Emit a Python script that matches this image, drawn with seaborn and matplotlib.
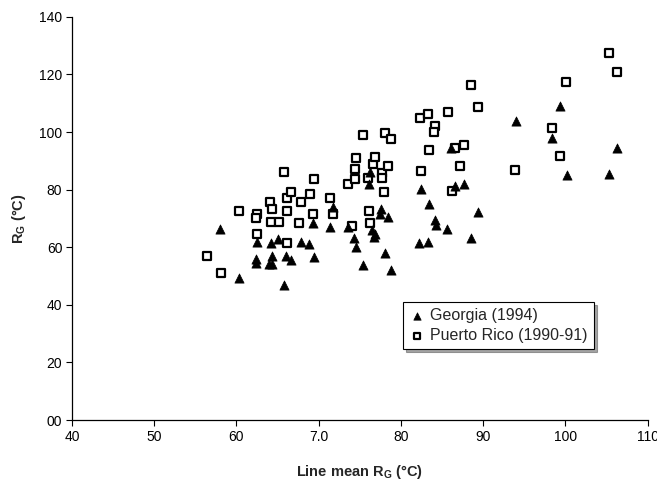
import matplotlib
matplotlib.use("Agg")
import matplotlib.pyplot as plt
import seaborn as sns
import pandas as pd

# Georgia (1994) – triangles
georgia_x = [58.0, 60.3, 62.5, 62.4, 62.4, 64.2, 65.1, 64.3, 63.9, 64.3, 66.0, 66.6, 65.8,
             67.8, 68.8, 69.3, 69.4, 71.8, 71.4, 73.6, 74.3, 74.6, 75.4, 76.2, 76.1, 77.6,
             77.5, 78.4, 76.5, 76.8, 76.7, 78.1, 78.8, 82.4, 83.4, 84.1, 84.3, 82.2, 83.3,
             85.6, 86.1, 86.6, 87.7, 88.5, 89.4, 94.0, 98.4, 99.4, 100.2, 105.3, 106.3]
georgia_y = [66.3, 49.3, 61.9, 55.8, 54.4, 61.6, 62.9, 57.0, 54.3, 54.0, 57.0, 55.6, 46.9,
             61.9, 61.0, 68.5, 56.7, 74.1, 67.1, 66.9, 63.1, 60.2, 53.8, 86.2, 82.0, 73.2,
             71.6, 70.6, 66.0, 64.6, 63.7, 58.1, 52.1, 80.1, 74.9, 69.5, 67.7, 61.4, 61.9,
             66.2, 94.6, 81.1, 81.9, 63.1, 72.1, 103.9, 97.8, 109.2, 84.9, 85.4, 94.4]

# Puerto Rico (1990-91) – squares
pr_x = [56.4, 58.1, 60.3, 62.5, 62.4, 62.5, 64.1, 64.3, 64.2, 65.2, 65.8, 66.1, 66.1, 66.1,
        66.6, 67.8, 67.6, 68.9, 69.3, 69.4, 71.4, 71.8, 73.6, 74.4, 74.4, 74.6, 75.4, 76.0,
        76.6, 76.8, 77.7, 77.7, 77.9, 78.1, 78.8, 78.4, 76.1, 76.3, 74.1, 82.3, 83.3, 84.1,
        84.0, 83.4, 82.4, 85.7, 86.6, 87.7, 87.2, 86.2, 88.5, 89.4, 93.9, 98.4, 99.4, 100.1,
        105.3, 106.3]
pr_y = [57.1, 51.1, 72.6, 71.4, 70.2, 64.7, 75.6, 73.3, 68.7, 68.9, 86.2, 77.0, 72.4, 61.4,
        79.3, 75.6, 68.4, 78.5, 71.7, 83.7, 77.0, 71.4, 82.0, 83.6, 87.1, 90.8, 99.0, 84.2,
        88.8, 91.2, 85.7, 83.9, 79.1, 99.6, 97.6, 88.1, 72.4, 68.3, 67.5, 104.8, 106.3, 102.2,
        100.1, 93.6, 86.5, 107.1, 94.6, 95.5, 88.2, 79.6, 116.4, 108.6, 86.8, 101.3, 91.7, 117.5,
        127.6, 121.0]

series_labels = ["Georgia (1994)", "Puerto Rico (1990-91)"]
x_ticks = [40, 50, 60, 70, 80, 90, 100, 110]
x_tick_labels = ["40", "50", "60", "7.0", "80", "90", "100", "110"]
y_ticks = [0, 20, 40, 60, 80, 100, 120, 140]
y_tick_labels = ["00", "20", "40", "60", "80", "100", "120", "140"]

sns.set_theme(style="white")
plt.rcParams["font.family"] = ["Liberation Sans", "DejaVu Sans"]
plt.rcParams["mathtext.fontset"] = "custom"
plt.rcParams["mathtext.rm"] = "Liberation Sans"
plt.rcParams["mathtext.bf"] = "Liberation Sans:bold"

df_g = pd.DataFrame({"x": georgia_x, "y": georgia_y})
df_p = pd.DataFrame({"x": pr_x, "y": pr_y})

fig = plt.figure(figsize=(6.57, 4.80), dpi=100)
ax = fig.add_axes([0.1096, 0.125, 0.876, 0.840])

sns.scatterplot(data=df_g, x="x", y="y", ax=ax, marker="^", color="black",
                edgecolor="black", s=44, linewidth=0.5, label=series_labels[0], zorder=3)
sns.scatterplot(data=df_p, x="x", y="y", ax=ax, marker="s", facecolor="white",
                edgecolor="black", s=30, linewidth=1.6, label=series_labels[1], zorder=2)

ax.set_xlim(40, 110)
ax.set_ylim(0, 140)
ax.set_xticks(x_ticks)
ax.set_xticklabels(x_tick_labels)
ax.set_yticks(y_ticks)
ax.set_yticklabels(y_tick_labels)
ax.tick_params(axis="both", direction="out", length=4, width=0.8, color="black",
               labelsize=10, labelcolor="black", bottom=True, left=True, pad=3)

for side in ["top", "right"]:
    ax.spines[side].set_visible(False)
for side in ["left", "bottom"]:
    ax.spines[side].set_color("black")
    ax.spines[side].set_linewidth(0.9)

ax.set_xlabel(r"Line mean $\mathbf{R}_\mathbf{G}$ (°C)", fontsize=10.5, fontweight="bold",
              labelpad=14)
ax.set_ylabel(r"$\mathbf{R}_\mathbf{G}$ (°C)", fontsize=10.5, fontweight="bold", labelpad=8)

leg = ax.legend(loc="upper left", bbox_to_anchor=(0.575, 0.293), frameon=True,
                fancybox=False, shadow=True, fontsize=11.5, handletextpad=0.3,
                borderpad=0.4, labelspacing=0.3, handlelength=1.0, borderaxespad=0,
                markerscale=0.8)
leg.get_frame().set_edgecolor("black")
leg.get_frame().set_linewidth(0.8)

fig.savefig("out.png", dpi=100)
